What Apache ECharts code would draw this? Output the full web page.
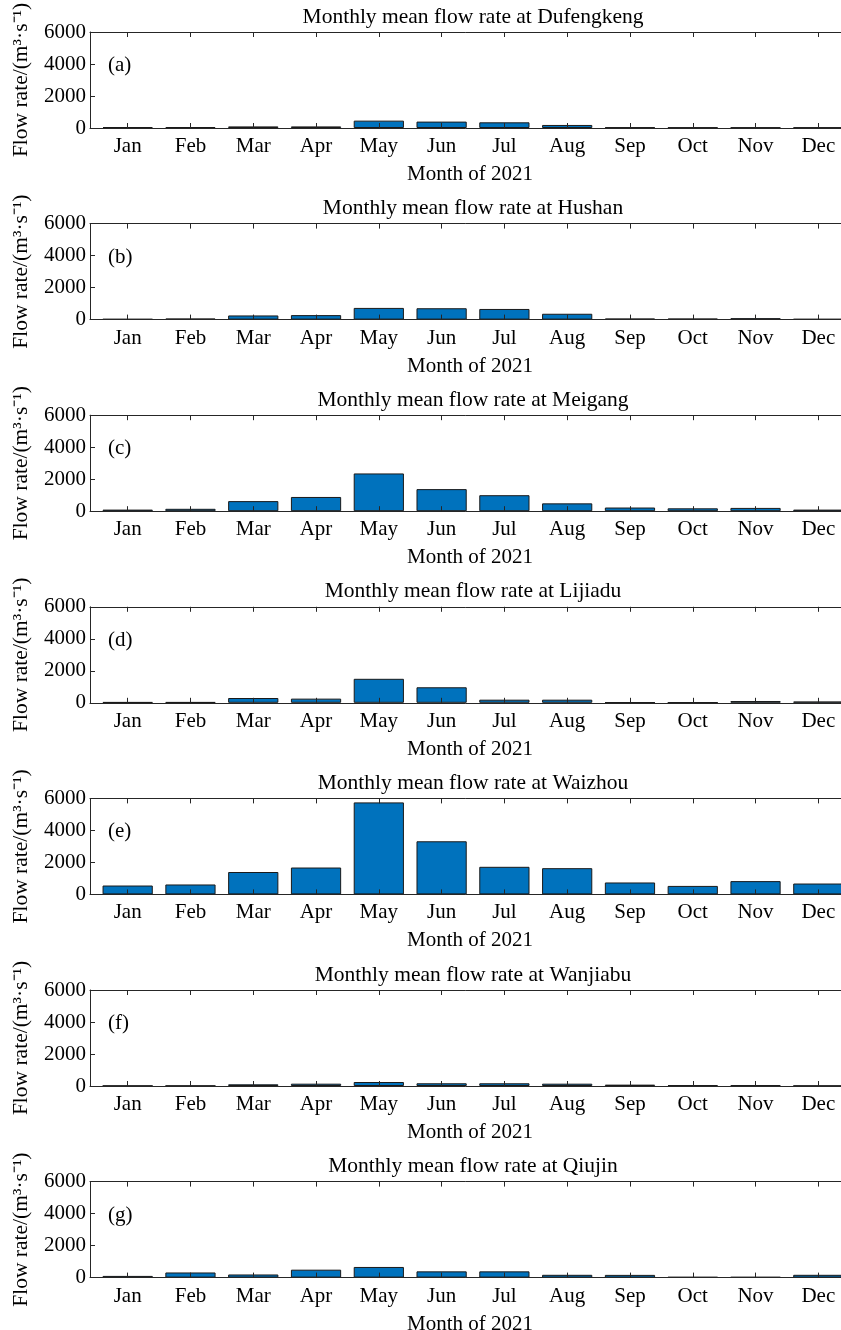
<!DOCTYPE html>
<html>
<head>
<meta charset="utf-8">
<script src="https://cdn.jsdelivr.net/npm/echarts@6/dist/echarts.min.js"></script>
<style>
  html, body { margin: 0; padding: 0; background: #fff; }
  #chart { width: 841px; height: 1330px; }
</style>
</head>
<body>
<div id="chart"></div>
<script>
// Monthly mean flow rate (m³/s) at seven gauging stations, 2021
const months = ['Jan', 'Feb', 'Mar', 'Apr', 'May', 'Jun', 'Jul', 'Aug', 'Sep', 'Oct', 'Nov', 'Dec'];
const stations = ['Dufengkeng', 'Hushan', 'Meigang', 'Lijiadu', 'Waizhou', 'Wanjiabu', 'Qiujin'];
const panelTags = ['(a)', '(b)', '(c)', '(d)', '(e)', '(f)', '(g)'];

const dufengkeng = [60, 60, 100, 100, 460, 400, 355, 190, 40, 35, 35, 35];
const hushan     = [40, 65, 260, 280, 730, 710, 665, 365, 65, 65, 90, 40];
const meigang    = [100, 150, 630, 890, 2360, 1380, 1000, 490, 230, 180, 205, 100];
const lijiadu    = [45, 45, 300, 260, 1500, 970, 195, 195, 20, 20, 110, 85];
const waizhou    = [555, 620, 1400, 1680, 5750, 3320, 1725, 1640, 745, 530, 830, 680];
const wanjiabu   = [20, 20, 105, 145, 250, 170, 170, 145, 85, 45, 45, 20];
const qiujin     = [105, 320, 195, 495, 665, 390, 390, 175, 170, 40, 40, 175];

const seriesData = [dufengkeng, hushan, meigang, lijiadu, waizhou, wanjiabu, qiujin];

const yMin = 0, yMax = 6000, yStep = 2000;
const xAxisTitle = 'Month of 2021';
const yAxisTitle = 'Flow rate/(m³·s⁻¹)';

// month positions 1..12 on a numeric axis padded by 0.6 on each side
const monthPos = months.map((m, k) => k + 1);
const xMin = 0.4, xMax = 12.6;

const FONT = '"Liberation Serif", "Times New Roman", serif';
const AXIS_COLOR = '#262626';
const BAR_COLOR = '#0072BD';

// panel geometry (the right side of each frame runs past the page edge)
const PANEL_STEP = 191.6;
const GRID_TOP = 32;
const GRID_H = 96;
const GRID_LEFT = 90;
const GRID_W = 766;

const grid = [], xAxis = [], yAxis = [], series = [], title = [];

stations.forEach((name, i) => {
  const top = GRID_TOP + i * PANEL_STEP;
  grid.push({
    left: GRID_LEFT, top: top, width: GRID_W, height: GRID_H,
    containLabel: false, outerBoundsMode: 'none'
  });

  title.push({
    text: 'Monthly mean flow rate at ' + name,
    left: 468, top: top - 31, textAlign: 'center',
    textStyle: { fontFamily: FONT, fontSize: 21.5, fontWeight: 'normal', color: '#000' }
  });
  title.push({
    text: panelTags[i],
    left: 103, top: top + 18,
    textStyle: { fontFamily: FONT, fontSize: 21, fontWeight: 'normal', color: '#000' }
  });

  // bottom month axis
  xAxis.push({
    type: 'value', gridIndex: i, min: xMin, max: xMax, position: 'bottom', z: 5,
    axisLine: { lineStyle: { color: AXIS_COLOR, width: 1 } },
    axisTick: { show: true, inside: true, length: 5, customValues: monthPos, lineStyle: { color: AXIS_COLOR } },
    axisLabel: {
      fontFamily: FONT, fontSize: 21, color: '#000', margin: 8,
      customValues: monthPos,
      formatter: v => months[Math.round(v) - 1]
    },
    splitLine: { show: false },
    name: xAxisTitle, nameLocation: 'middle', nameGap: 36,
    nameTextStyle: { fontFamily: FONT, fontSize: 21, color: '#000', padding: [0, 6, 0, 0] }
  });
  // top frame with ticks
  xAxis.push({
    type: 'value', gridIndex: i, min: xMin, max: xMax, position: 'top', z: 5,
    axisLine: { show: true, lineStyle: { color: AXIS_COLOR, width: 1 } },
    axisTick: { show: true, inside: true, length: 5, customValues: monthPos, lineStyle: { color: AXIS_COLOR } },
    axisLabel: { show: false },
    splitLine: { show: false }
  });

  yAxis.push({
    type: 'value', gridIndex: i, min: yMin, max: yMax, interval: yStep, z: 5,
    axisLine: { show: true, lineStyle: { color: AXIS_COLOR, width: 1 } },
    axisTick: { show: true, inside: true, length: 5, lineStyle: { color: AXIS_COLOR } },
    splitLine: { show: false },
    axisLabel: { fontFamily: FONT, fontSize: 21, color: '#000', margin: 4, formatter: v => String(v) },
    name: yAxisTitle, nameLocation: 'middle', nameGap: 58, nameRotate: 90,
    nameTextStyle: { fontFamily: FONT, fontSize: 21.5, color: '#000' }
  });

  series.push({
    type: 'bar', xAxisIndex: 2 * i, yAxisIndex: i,
    data: seriesData[i].map((v, k) => [monthPos[k], v]),
    barWidth: '80%',
    itemStyle: { color: BAR_COLOR, borderColor: '#1a1a1a', borderWidth: 1 },
    silent: true, animation: false
  });
});

const chart = echarts.init(document.getElementById('chart'), null, { renderer: 'canvas' });
chart.setOption({
  backgroundColor: '#fff',
  animation: false,
  title, grid, xAxis, yAxis, series
});
</script>
</body>
</html>
